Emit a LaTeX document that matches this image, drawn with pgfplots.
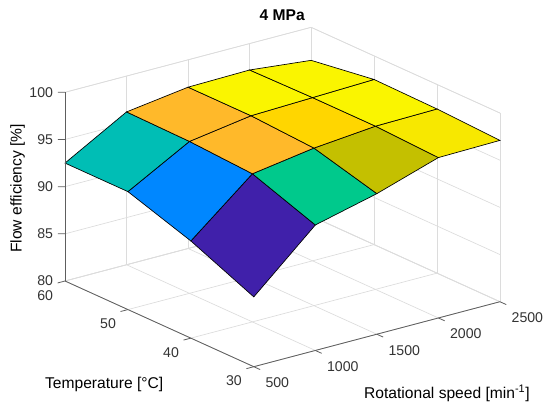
\documentclass[border=0pt]{standalone}
\usepackage{fontspec}
\setmainfont{Liberation Sans}
\usepackage{pgfplots}
\usepackage{pgfplotstable}
\pgfplotsset{compat=1.18}

\definecolor{gridgray}{HTML}{DCDCDC}
\definecolor{axisgray}{HTML}{5E5E5E}
\newcommand\ticksize{\fontsize{10.6}{12}\selectfont}
\newcommand\labsize{\fontsize{11.7}{13}\selectfont}

% speed [min^-1], temperature [deg C], efficiency [%], colour index of the patch starting here
\pgfplotstableread{
x y z c
500 30 87.4 0
1000 30 93.3 3
1500 30 94.9 4
2000 30 97.0 8
2500 30 97.1 7
500 40 90.3 1
1000 40 95.7 5
1500 40 96.7 6
2000 40 97.3 7
2500 40 97.4 7
500 50 92.5 2
1000 50 96.1 5
1500 50 97.1 7
2000 50 97.3 7
2500 50 97.5 7
500 60 92.5 7
1000 60 96.2 7
1500 60 97.1 7
2000 60 97.2 7
2500 60 96.5 7
}\flowdata

\begin{document}
\begin{tikzpicture}
\begin{axis}[
  x={(0.0923pt,0.024375pt)}, y={(-4.72pt,2.1425pt)}, z={(0pt,7.076pt)},
  xmin=500, xmax=2500, ymin=30, ymax=60, zmin=80, zmax=100,
  xtick={500,1000,...,2500}, ytick={30,40,50,60}, ztick={80,85,...,100},
  grid=major,
  major grid style={draw=gridgray, line width=0.5pt},
  axis line style={draw=gridgray, line width=0.5pt},
  tick style={draw=none},
  major tick length=0pt,
  /pgf/number format/assume math mode=true,
  /pgf/number format/1000 sep={},
  ticklabel style={font=\ticksize, text=black!80},
  xticklabel style={anchor=north west, inner sep=0pt, xshift=8.6pt, yshift=-8.1pt},
  yticklabel style={anchor=north east, inner sep=0pt, xshift=-8.8pt, yshift=-6.75pt},
  zticklabel style={anchor=east, inner sep=0pt, xshift=-8.8pt},
  colormap={patches}{rgb255=(64,32,170) rgb255=(0,135,255) rgb255=(0,190,181)
    rgb255=(0,201,140) rgb255=(196,192,0) rgb255=(255,185,42) rgb255=(255,214,0)
    rgb255=(250,245,0) rgb255=(247,232,0)},
  colormap access=direct,
  clip=false,
  unbounded coords=jump,
]
\addplot3[surf, shader=flat corner, draw=black, line width=0.5pt,
  point meta=\thisrow{c}, mesh/cols=5, mesh/ordering=x varies, z buffer=none]
  table[x=x, y=y, z=z] {\flowdata};
% axis lines
\addplot3[axisgray, line width=0.6pt, no marks] coordinates {(500,60,80) (500,30,80) (2500,30,80)};
\addplot3[axisgray, line width=0.6pt, no marks] coordinates {(500,60,80) (500,60,100)};
% tick marks, set in the floor plane as in the original
\addplot3[axisgray, line width=0.6pt, no marks] coordinates {
  (500,30,80) (500,29,80) (nan,nan,nan)
  (1000,30,80) (1000,29,80) (nan,nan,nan)
  (1500,30,80) (1500,29,80) (nan,nan,nan)
  (2000,30,80) (2000,29,80) (nan,nan,nan)
  (2500,30,80) (2500,29,80) (nan,nan,nan)
  (500,30,80) (440,30,80) (nan,nan,nan)
  (500,40,80) (440,40,80) (nan,nan,nan)
  (500,50,80) (440,50,80) (nan,nan,nan)
  (500,60,80) (440,60,80) (nan,nan,nan)
  (500,60,85) (464,60.41,85) (nan,nan,nan)
  (500,60,90) (464,60.41,90) (nan,nan,nan)
  (500,60,95) (464,60.41,95) (nan,nan,nan)
  (500,60,100) (464,60.41,100)
};
\coordinate (F) at (axis cs:500,30,80);
\end{axis}
\node[font=\labsize\bfseries] at ([shift={(21.3pt,263.55pt)}]F) {4 MPa};
\node[font=\labsize, rotate=90] at ([shift={(-177.2pt,133.8pt)}]F) {Flow efficiency [\%]};
\node[font=\labsize] at ([shift={(-112.2pt,-13pt)}]F) {Temperature [°C]};
\node[font=\labsize] at ([shift={(144.9pt,-19.7pt)}]F) {Rotational speed [min\textsuperscript{-1}]};
\pgfresetboundingbox
\path[use as bounding box] ([shift={(-190.35pt,-33.975pt)}]F) rectangle ++(412.5pt,309pt);
\end{tikzpicture}
\end{document}
